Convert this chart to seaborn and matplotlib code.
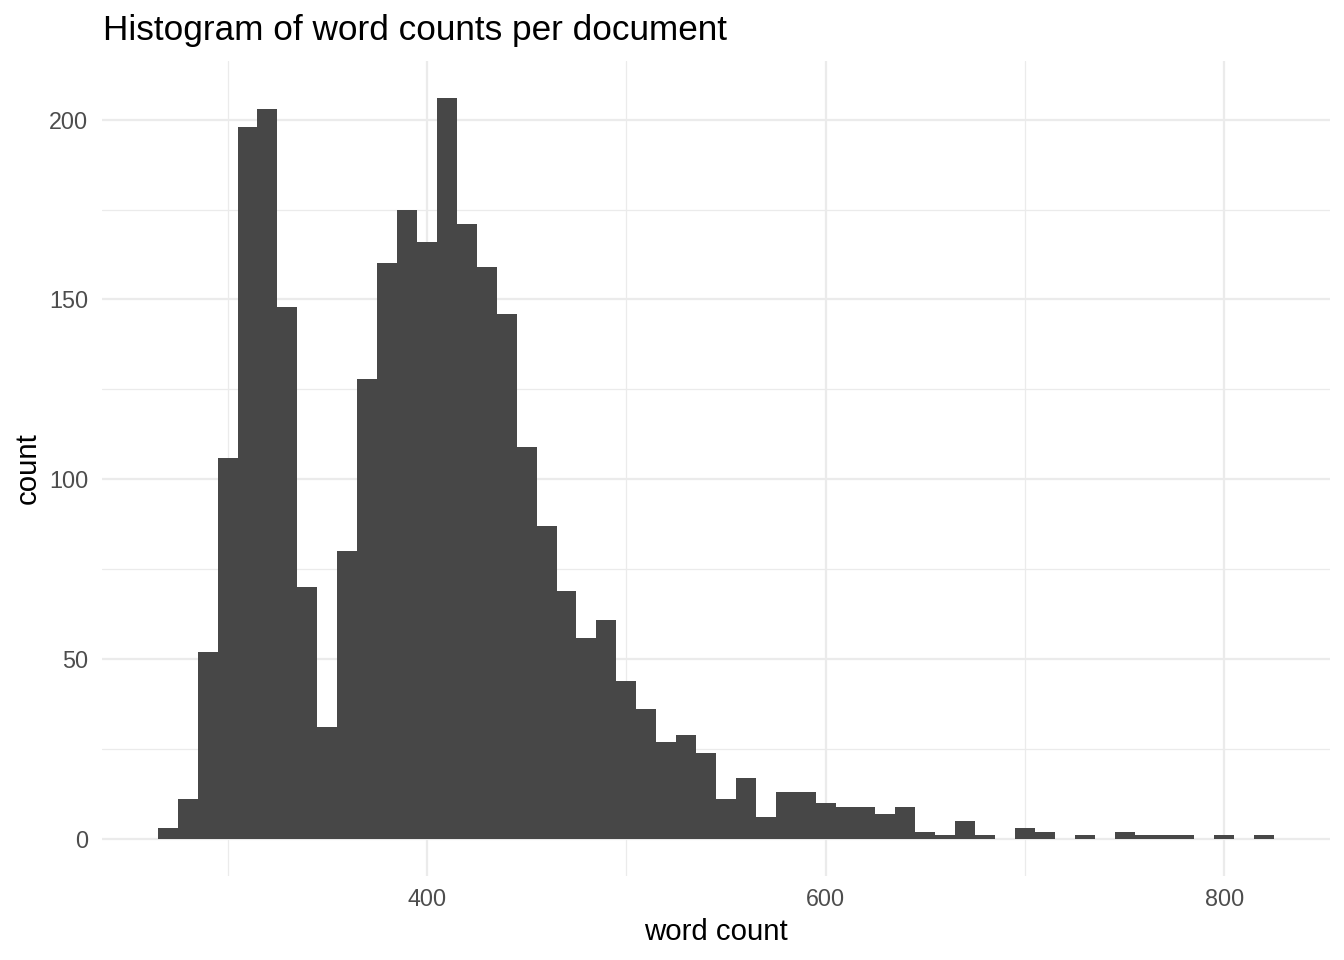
import numpy as np
import pandas as pd
import matplotlib
matplotlib.use("Agg")
import matplotlib.pyplot as plt
import seaborn as sns
from matplotlib.ticker import FixedLocator

# Histogram bins (binwidth 10, centred on multiples of 10)
bin_centers = [270, 280, 290, 300, 310, 320, 330, 340, 350, 360,
               370, 380, 390, 400, 410, 420, 430, 440, 450, 460,
               470, 480, 490, 500, 510, 520, 530, 540, 550, 560,
               570, 580, 590, 600, 610, 620, 630, 640, 650, 660,
               670, 680, 690, 700, 710, 720, 730, 740, 750, 760,
               770, 780, 790, 800, 810, 820]
counts = [3, 11, 52, 106, 198, 203, 148, 70, 31, 80,
          128, 160, 175, 166, 206, 171, 159, 146, 109, 87,
          69, 56, 61, 44, 36, 27, 29, 24, 11, 17,
          6, 13, 13, 10, 9, 9, 7, 9, 2, 1,
          5, 1, 0, 3, 2, 0, 1, 0, 2, 1,
          1, 1, 0, 1, 0, 1]
x_major = [400, 600, 800]
x_minor = [300, 500, 700]
y_major = [0, 50, 100, 150, 200]
y_minor = [25, 75, 125, 175]

title = "Histogram of word counts per document"
xlabel = "word count"
ylabel = "count"

df = pd.DataFrame({"word_count": bin_centers, "n": counts})

sns.set_style("white")
plt.rcParams["font.family"] = ["Liberation Sans", "DejaVu Sans"]

fig = plt.figure(figsize=(13.44, 9.6), dpi=100)
W, H = 1344, 960
ax = fig.add_axes([102 / W, 1 - 876 / H, (1330 - 102) / W, (876 - 61) / H])

sns.histplot(data=df, x="word_count", weights="n", binwidth=10,
             binrange=(265, 825), color="#474747", alpha=1,
             linewidth=0, edgecolor="none", ax=ax, zorder=2)

ax.set_xlim(237, 853)
ax.set_ylim(-10.3, 216.3)

ax.xaxis.set_major_locator(FixedLocator(x_major))
ax.xaxis.set_minor_locator(FixedLocator(x_minor))
ax.yaxis.set_major_locator(FixedLocator(y_major))
ax.yaxis.set_minor_locator(FixedLocator(y_minor))
ax.grid(which="major", color="#EBEBEB", linewidth=1.6, zorder=0)
ax.grid(which="minor", color="#EBEBEB", linewidth=0.9, zorder=0)
ax.set_axisbelow(True)
for s in ax.spines.values():
    s.set_visible(False)
ax.tick_params(which="both", length=0)
ax.tick_params(axis="x", labelsize=16.8, labelcolor="#4D4D4D", pad=9)
ax.tick_params(axis="y", labelsize=16.8, labelcolor="#4D4D4D", pad=10)
ax.set_xlabel("")
ax.set_ylabel("")

fig.text(716 / W, 1 - 940 / H, xlabel, ha="center", va="baseline",
         fontsize=21.2, color="black")
fig.text(42 / W, 1 - 468 / H, ylabel, ha="right", va="center",
         rotation=90, fontsize=21.2, color="black")
fig.text(103 / W, 1 - 40 / H, title, ha="left", va="baseline",
         fontsize=25.3, color="black")

fig.savefig("out.png", dpi=100, facecolor="white")
